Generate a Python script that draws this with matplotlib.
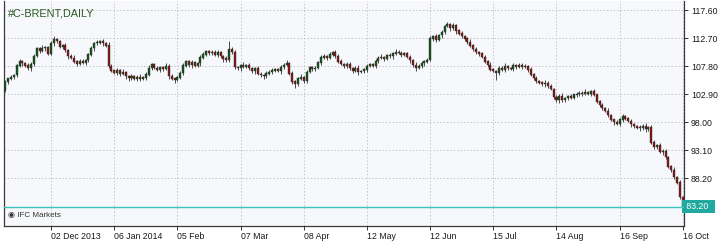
import numpy as np
import matplotlib
matplotlib.use("Agg")
import matplotlib.pyplot as plt

# daily closes of C-BRENT, one per trading day
closes = [
    105.0, 105.6, 105.9, 106.2, 107.9, 108.6, 108.3, 107.9, 107.4, 108.2,
    109.6, 110.9, 110.5, 111.0, 111.1, 110.0, 111.8, 112.5, 112.2, 111.2,
    111.4, 110.6, 109.6, 109.2, 108.6, 108.2, 108.7, 108.4, 108.9, 109.8,
    110.9, 111.8, 111.9, 112.2, 111.8, 111.4, 107.8, 107.0, 106.6, 107.0,
    106.4, 106.8, 106.0, 105.7, 106.1, 105.6, 105.9, 105.5, 105.8, 106.3,
    107.5, 108.1, 107.5, 107.2, 107.6, 107.3, 107.8, 106.0, 105.6, 105.4,
    105.8, 106.6, 107.9, 108.6, 108.0, 108.4, 107.9, 108.3, 109.3, 109.8,
    110.4, 110.1, 110.3, 109.8, 110.2, 109.5, 109.1, 108.8, 110.8, 110.3,
    107.6, 107.4, 108.0, 107.7, 107.9, 107.5, 106.9, 107.4, 106.4, 106.2,
    106.0, 106.5, 106.8, 107.0, 107.2, 106.9, 107.6, 108.0, 108.3, 106.5,
    105.1, 104.6, 105.6, 105.9, 105.2, 106.8, 107.6, 107.3, 107.5, 108.4,
    109.3, 109.6, 109.3, 109.8, 110.2, 109.6, 108.6, 108.2, 107.8, 108.2,
    107.4, 107.0, 107.5, 106.8, 106.9, 107.2, 107.8, 108.1, 107.9, 108.7,
    109.2, 109.4, 109.1, 109.7, 109.5, 110.0, 110.3, 110.1, 109.8, 110.0,
    109.4, 108.8, 108.0, 107.5, 107.8, 108.3, 108.6, 108.9, 112.6, 113.0,
    112.4, 113.2, 113.8, 114.8, 115.1, 114.4, 114.9, 114.0, 113.5, 113.0,
    112.6, 112.0, 111.4, 110.8, 110.2, 110.0, 109.4, 108.6, 108.0, 107.2,
    106.9, 106.6, 107.5, 107.2, 107.8, 107.4, 107.3, 107.9, 107.6, 108.0,
    107.7, 107.8, 107.2, 106.3, 105.7, 105.2, 104.9, 104.6, 104.8, 104.3,
    103.8, 102.4, 101.8, 102.6, 101.8, 102.2, 102.5, 102.3, 102.8, 102.9,
    103.1, 102.9, 103.3, 103.0, 103.4, 102.8, 101.6, 101.0, 100.5, 99.9,
    99.2, 98.4, 98.0, 97.6, 98.4, 99.0, 98.6, 98.2, 97.6, 97.3,
    97.0, 96.9, 97.3, 96.7, 97.1, 94.4, 93.6, 93.9, 92.7, 92.9,
    91.8, 90.2, 89.6, 88.3, 87.4, 84.9, 83.2,
]
first_open = 103.6

# wick lengths above / below the body, in tenths of a dollar
up_wick = [
    3, 2, 4, 3, 2, 5, 3, 2, 4, 3, 4, 2, 3, 5, 2, 3, 4, 6, 3, 2,
    3, 4, 2, 3, 5, 2, 3, 4, 2, 3, 4, 3, 5, 2, 4, 3, 6, 3, 2, 4,
    3, 5, 2, 3, 4, 2, 3, 5, 3, 4, 5, 3, 2, 4, 3, 2, 5, 3, 4, 2,
    3, 4, 5, 3, 2, 4, 3, 2, 4, 5, 3, 2, 4, 3, 5, 2, 3, 4, 14, 3,
    4, 3, 2, 5, 3, 4, 2, 3, 4, 3, 2, 4, 3, 5, 2, 3, 4, 3, 5, 3,
    4, 2, 3, 5, 2, 4, 3, 2, 4, 3, 5, 3, 2, 4, 3, 5, 3, 4, 2, 3,
    4, 2, 3, 5, 3, 2, 4, 3, 2, 4, 3, 5, 2, 3, 4, 2, 5, 3, 4, 2,
    3, 4, 2, 5, 3, 4, 2, 3, 4, 3, 5, 3, 4, 2, 5, 3, 4, 2, 3, 4,
    2, 3, 5, 2, 4, 3, 2, 4, 3, 5, 3, 2, 4, 3, 5, 2, 3, 4, 2, 3,
    4, 3, 2, 5, 3, 4, 2, 3, 5, 4, 3, 2, 4, 3, 5, 2, 3, 4, 2, 3,
    4, 3, 5, 2, 3, 4, 2, 3, 4, 2, 5, 3, 2, 4, 3, 5, 2, 3, 4, 3,
    2, 4, 3, 5, 2, 3, 4, 2, 5, 3, 4, 3, 2, 5, 3, 4, 2,
]
dn_wick = [
    4, 3, 2, 4, 3, 2, 5, 3, 2, 4, 3, 2, 4, 3, 5, 3, 2, 4, 3, 2,
    4, 3, 5, 2, 3, 4, 2, 3, 4, 3, 2, 4, 3, 2, 5, 3, 4, 3, 2, 4,
    3, 2, 4, 5, 3, 2, 4, 3, 2, 5, 3, 4, 2, 3, 4, 3, 2, 4, 3, 5,
    2, 3, 4, 2, 3, 5, 3, 2, 4, 3, 2, 4, 3, 2, 4, 3, 5, 2, 3, 4,
    3, 2, 4, 3, 2, 4, 3, 5, 2, 3, 4, 3, 2, 4, 3, 2, 4, 3, 2, 3,
    5, 6, 3, 2, 4, 3, 2, 4, 3, 2, 4, 3, 5, 2, 3, 4, 3, 2, 4, 3,
    2, 4, 3, 5, 2, 3, 4, 2, 3, 4, 3, 2, 4, 3, 2, 5, 3, 2, 4, 3,
    2, 4, 3, 5, 2, 3, 4, 3, 2, 4, 3, 2, 4, 3, 2, 4, 3, 5, 2, 3,
    4, 3, 2, 4, 3, 5, 2, 3, 4, 3, 2, 13, 3, 2, 4, 3, 2, 4, 3, 2,
    4, 3, 5, 2, 3, 4, 2, 3, 4, 3, 2, 4, 3, 5, 2, 3, 4, 2, 3, 4,
    3, 4, 2, 3, 4, 3, 2, 4, 3, 2, 4, 3, 5, 2, 3, 4, 3, 2, 4, 3,
    2, 4, 3, 5, 2, 3, 4, 3, 2, 4, 3, 2, 4, 3, 2, 3, 2,
]

date_labels = ["02 Dec 2013", "06 Jan 2014", "05 Feb", "07 Mar", "08 Apr",
               "12 May", "12 Jun", "15 Jul", "14 Aug", "16 Sep", "16 Oct"]
date_bars = [16, 38, 60, 82, 104, 126, 148, 170, 192, 214, 236]
price_ticks = [88.20, 93.10, 98.00, 102.90, 107.80, 112.70, 117.60]
last_price = 83.20

plt.rcParams['font.family'] = ['Liberation Sans', 'DejaVu Sans']

closes = np.array(closes)
opens = np.concatenate([[first_open], closes[:-1]])
body_top = np.maximum(opens, closes)
body_bot = np.minimum(opens, closes)
highs = body_top + np.array(up_wick) / 10
lows = body_bot - np.array(dn_wick) / 10
x = np.arange(len(closes))
bull = closes >= opens

fig = plt.figure(figsize=(7.25, 2.41), dpi=100, facecolor='white')
ax = fig.add_axes([4 / 725, 15 / 241, 680 / 725, 225 / 241])
ax.set_facecolor('#F7F8FC')

ax.vlines(x, lows, highs, color='#4a4a4a', lw=0.7, zorder=2)
cols = np.where(bull, '#14561a', '#8e1414')
ax.bar(x, body_top - body_bot + 0.05, bottom=body_bot, width=0.7,
       color=cols, edgecolor='#2a2a2a', linewidth=0.3, zorder=3)

ax.set_xlim(-0.4, 236.4)
ax.set_ylim(79.8, 119.2)

ax.set_xticks(date_bars)
ax.set_xticklabels(date_labels, ha='left', fontsize=6.3, color='#1a1a1a')
ax.set_yticks(price_ticks)
ax.set_yticklabels([f"{p:.2f}" for p in price_ticks], fontsize=6.3, color='#1a1a1a')
ax.yaxis.tick_right()
ax.tick_params(axis='x', length=3, width=0.7, pad=1, color='#333333')
ax.tick_params(axis='y', length=3, width=0.7, pad=2, color='#333333')
ax.grid(True, color='#c4c4c8', linestyle=(0, (1.5, 2)), linewidth=0.7)
ax.set_axisbelow(True)

for side in ['left', 'bottom', 'right']:
    ax.spines[side].set_color('#3a3a3a')
    ax.spines[side].set_linewidth(0.9)
ax.spines['top'].set_visible(False)

# current price line and label
ax.axhline(last_price, color='#3cc3bb', lw=1.0, zorder=4)
ax.text(1.0, last_price, f" {last_price:.2f}  ", transform=ax.get_yaxis_transform(),
        ha='left', va='center', fontsize=6.3, color='white', clip_on=False,
        bbox=dict(boxstyle='square,pad=0.25', fc='#1fa99f', ec='none'))

ax.text(0.006, 0.965, "#C-BRENT,DAILY", transform=ax.transAxes, ha='left', va='top',
        fontsize=7.8, color='#2b5a22')
ax.text(0.006, 0.03, "◉ IFC Markets", transform=ax.transAxes, ha='left', va='bottom',
        fontsize=5.8, color='#333333', family=['Liberation Sans', 'DejaVu Sans'])

fig.savefig("out.png", dpi=100, facecolor='white')
